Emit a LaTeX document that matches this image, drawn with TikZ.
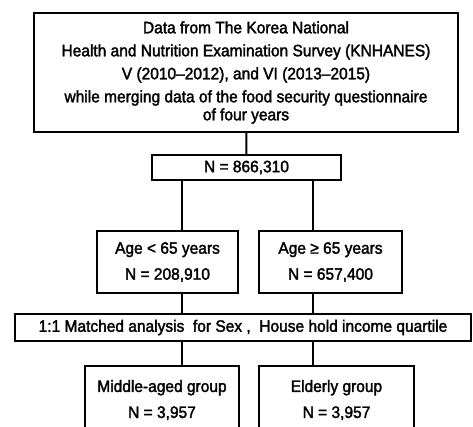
\documentclass[tikz,border=0pt]{standalone}
\usepackage{fontspec}
\setmainfont{Liberation Sans}
\newfontfamily\chartfont{Liberation Sans}[Ligatures=TeX, FakeStretch=0.94, FakeBold=2]
\usepackage{tikz}
\usetikzlibrary{positioning, calc}

\begin{document}
\begin{tikzpicture}[
    x=1pt, y=-1pt,
    flowbox/.style={draw, line width=2pt, align=center, inner sep=0pt,
        minimum width=#1, font=\chartfont\fontsize{16.5}{23}\selectfont},
    twoline/.style={font=\chartfont\fontsize{16.5}{26}\selectfont},
    link/.style={line width=2pt},
]
    \clip (0,0) rectangle (473,426);
    \fill[white] (0,0) rectangle (473,426);

    % source survey
    \node[flowbox=424pt, minimum height=119pt] (survey) at (246,72.5)
        {Data from The Korea National\\
         Health and Nutrition Examination Survey (KNHANES)\\
         V (2010--2012), and VI (2013--2015)\\
         while merging data of the food security questionnaire\\[-5pt]
         of four years};
    \node[flowbox=189pt, minimum height=25pt] (total) at (246.5,167.5) {N = 866,310};

    % age split
    \node[flowbox=141pt, minimum height=62pt, twoline] (young) at (167.5,262)
        {Age < 65 years\\N = 208,910};
    \node[flowbox=143pt, minimum height=62pt, twoline] (old) at (330.5,262)
        {Age ≥ 65 years\\N = 657,400};

    % matching
    \node[flowbox=456pt, minimum height=27pt] (match) at (243,327.5)
        {1:1 Matched analysis\ \ for Sex ,\ \ House hold income quartile};

    % matched groups
    \node[flowbox=154pt, minimum height=68pt, twoline] (middle) at (162,400)
        {Middle-aged group\\N = 3,957};
    \node[flowbox=155pt, minimum height=68pt, twoline] (elder) at (336.5,400)
        {Elderly group\\N = 3,957};

    % connectors
    \coordinate (lx) at (182,0);
    \coordinate (rx) at (313,0);
    \draw[link] (survey) -- (total);
    \draw[link] (total.south -| lx) -- (young.north -| lx);
    \draw[link] (total.south -| rx) -- (old.north -| rx);
    \draw[link] (young.south -| lx) -- (match.north -| lx);
    \draw[link] (old.south -| rx) -- (match.north -| rx);
    \draw[link] (match.south -| lx) -- (middle.north -| lx);
    \draw[link] (match.south -| rx) -- (elder.north -| rx);
\end{tikzpicture}
\end{document}
